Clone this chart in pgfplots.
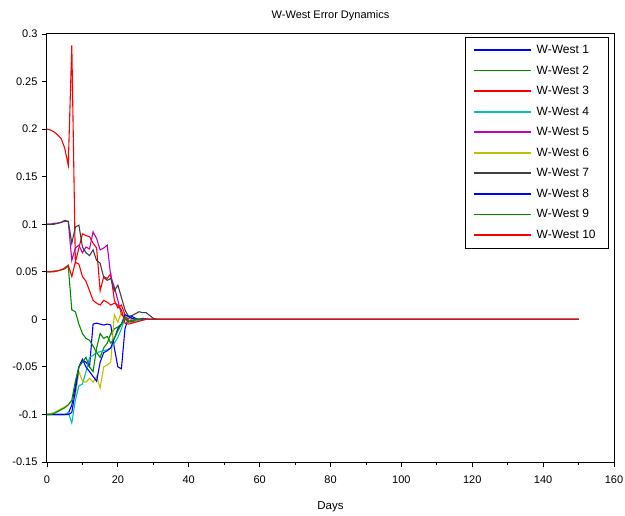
\documentclass[border=0pt]{standalone}
\usepackage{pgfplots}
\pgfplotsset{compat=1.18}
\usepackage{fontspec}
\setmainfont{Liberation Sans}
\definecolor{sblue}{RGB}{0,0,255}
\definecolor{sgreen}{RGB}{0,140,0}
\definecolor{sred}{RGB}{255,0,0}
\definecolor{scyan}{RGB}{0,191,191}
\definecolor{smag}{RGB}{191,0,191}
\definecolor{syel}{RGB}{191,191,0}
\definecolor{sgray}{RGB}{64,64,64}
\begin{document}
\begin{tikzpicture}
\begin{axis}[name=ax,
  scale only axis, width=567pt, height=428pt,
  xmin=0, xmax=160, ymin=-0.15, ymax=0.3,
  xtick={0,20,...,160}, minor x tick num=1,
  ytick={-0.15,-0.1,-0.05,0,0.05,0.1,0.15,0.2,0.25,0.3},
  yticklabels={-0.15,-0.1,-0.05,0,0.05,0.1,0.15,0.2,0.25,0.3},
  xticklabels={0,20,40,60,80,100,120,140,160},
  tick pos=left, tick align=outside,
  major tick length=5pt, minor tick length=3pt,
  every tick/.style={black, line width=0.8pt},
  axis line style={line width=1pt},
  tick label style={font=\fontsize{11}{13}\selectfont},
  xticklabel style={yshift=-5pt},
  yticklabel style={xshift=-1pt},
  title={W-West Error Dynamics},
  title style={font=\fontsize{11}{13}\selectfont, at={(0.5,1)}, anchor=south, yshift=4pt},
  xlabel={Days},
  xlabel style={font=\fontsize{11.5}{13}\selectfont, yshift=-11pt},
  legend cell align=left,
  legend style={at={(0.991,0.993)}, anchor=north east, draw=black, line width=0.6pt,
    font=\fontsize{12}{14}\selectfont, row sep=6.7pt, inner xsep=8pt, inner ysep=6pt,
    nodes={inner xsep=5pt}},
  legend image code/.code={\draw[#1, line width=1.6pt] (0pt,0pt) -- (57pt,0pt);},
  every axis plot/.append style={line width=1.1pt},
]
% W-West 1
\addplot[color=sblue] coordinates {(0,-0.1)(1,-0.1)(2,-0.1)(3,-0.1)(4,-0.1)(5,-0.1)(6,-0.099)(7,-0.09)(8,-0.07)(9,-0.05)(10,-0.043)(11,-0.045)(12,-0.05)(13,-0.005)(14,-0.004)(15,-0.005)(16,-0.006)(17,-0.005)(18,-0.006)(19,-0.03)(20,-0.05)(21,-0.052)(22,-0.01)(23,0.002)(24,0.003)(25,0.001)(26,0)(27,0.001)(28,0.0005)(29,0)(30,0)(150,0)};
% W-West 2
\addplot[color=sgreen] coordinates {(0,0.05)(1,0.05)(2,0.051)(3,0.051)(4,0.052)(5,0.053)(6,0.056)(7,0.01)(8,0.008)(9,-0.005)(10,-0.015)(11,-0.02)(12,-0.022)(13,-0.028)(14,-0.035)(15,-0.04)(16,-0.03)(17,-0.025)(18,-0.015)(19,-0.01)(20,-0.008)(21,-0.005)(22,0)(23,-0.002)(24,-0.001)(25,0)(30,0)(150,0)};
% W-West 3
\addplot[color=sred] coordinates {(0,0.2)(1,0.199)(2,0.197)(3,0.194)(4,0.19)(5,0.18)(6,0.162)(7,0.288)(8,0.06)(9,0.075)(10,0.09)(11,0.088)(12,0.087)(13,0.08)(14,0.075)(15,0.03)(16,0.045)(17,0.043)(18,0.048)(19,0.02)(20,0.012)(21,0.015)(22,0.005)(23,-0.002)(24,-0.003)(25,-0.001)(26,0)(30,0)(150,0)};
% W-West 4
\addplot[color=scyan] coordinates {(0,-0.1)(1,-0.1)(2,-0.1)(3,-0.1)(4,-0.1)(5,-0.1)(6,-0.098)(7,-0.109)(8,-0.085)(9,-0.07)(10,-0.068)(11,-0.055)(12,-0.04)(13,-0.038)(14,-0.035)(15,-0.034)(16,-0.033)(17,-0.032)(18,-0.03)(19,-0.025)(20,-0.019)(21,-0.01)(22,0.002)(23,0.004)(24,0.001)(25,-0.002)(26,-0.001)(27,0)(30,0)(150,0)};
% W-West 5
\addplot[color=smag] coordinates {(0,0.1)(1,0.1)(2,0.101)(3,0.101)(4,0.102)(5,0.103)(6,0.103)(7,0.062)(8,0.075)(9,0.078)(10,0.07)(11,0.076)(12,0.074)(13,0.092)(14,0.085)(15,0.073)(16,0.075)(17,0.078)(18,0.045)(19,0.034)(20,0.02)(21,0.005)(22,0.002)(23,0.001)(24,0)(30,0)(150,0)};
% W-West 6
\addplot[color=syel] coordinates {(0,-0.1)(1,-0.099)(2,-0.098)(3,-0.096)(4,-0.094)(5,-0.092)(6,-0.09)(7,-0.085)(8,-0.08)(9,-0.055)(10,-0.065)(11,-0.066)(12,-0.062)(13,-0.066)(14,-0.06)(15,-0.072)(16,-0.05)(17,-0.048)(18,-0.045)(19,0.005)(20,-0.003)(21,0.008)(22,0.004)(23,0.002)(24,0)(30,0)(150,0)};
% W-West 7
\addplot[color=sgray] coordinates {(0,0.1)(1,0.1)(2,0.1)(3,0.101)(4,0.102)(5,0.104)(6,0.103)(7,0.08)(8,0.097)(9,0.099)(10,0.076)(11,0.07)(12,0.067)(13,0.073)(14,0.062)(15,0.059)(16,0.044)(17,0.041)(18,0.043)(19,0.03)(20,0.036)(21,0.023)(22,0.01)(23,0.003)(24,0.004)(25,0.006)(26,0.008)(27,0.007)(28,0.007)(29,0.004)(30,0.001)(31,0)(150,0)};
% W-West 8
\addplot[color=sblue] coordinates {(0,-0.1)(1,-0.1)(2,-0.1)(3,-0.1)(4,-0.1)(5,-0.1)(6,-0.1)(7,-0.098)(8,-0.075)(9,-0.05)(10,-0.042)(11,-0.05)(12,-0.055)(13,-0.06)(14,-0.065)(15,-0.045)(16,-0.035)(17,-0.033)(18,-0.03)(19,-0.02)(20,-0.01)(21,-0.005)(22,0.005)(23,0.003)(24,0.001)(25,0)(30,0)(150,0)};
% W-West 9
\addplot[color=sgreen] coordinates {(0,-0.1)(1,-0.1)(2,-0.099)(3,-0.097)(4,-0.095)(5,-0.093)(6,-0.09)(7,-0.085)(8,-0.065)(9,-0.05)(10,-0.045)(11,-0.04)(12,-0.05)(13,-0.055)(14,-0.03)(15,-0.015)(16,-0.02)(17,-0.018)(18,-0.025)(19,-0.02)(20,-0.012)(21,-0.005)(22,0.002)(23,-0.003)(24,-0.002)(25,0)(30,0)(150,0)};
% W-West 10
\addplot[color=sred] coordinates {(0,0.05)(1,0.05)(2,0.05)(3,0.051)(4,0.052)(5,0.054)(6,0.057)(7,0.045)(8,0.06)(9,0.058)(10,0.045)(11,0.04)(12,0.03)(13,0.02)(14,0.017)(15,0.015)(16,0.02)(17,0.018)(18,0.015)(19,0.017)(20,0.015)(21,0.01)(22,-0.004)(23,-0.005)(24,-0.004)(25,-0.003)(26,-0.002)(27,-0.001)(28,0)(30,0)(150,0)};
\legend{W-West 1,W-West 2,W-West 3,W-West 4,W-West 5,W-West 6,W-West 7,W-West 8,W-West 9,W-West 10}
\end{axis}
\pgfresetboundingbox
\path[use as bounding box] ([shift={(-47pt,-53pt)}]ax.south west) rectangle ([shift={(11pt,34pt)}]ax.north east);
\end{tikzpicture}
\end{document}
